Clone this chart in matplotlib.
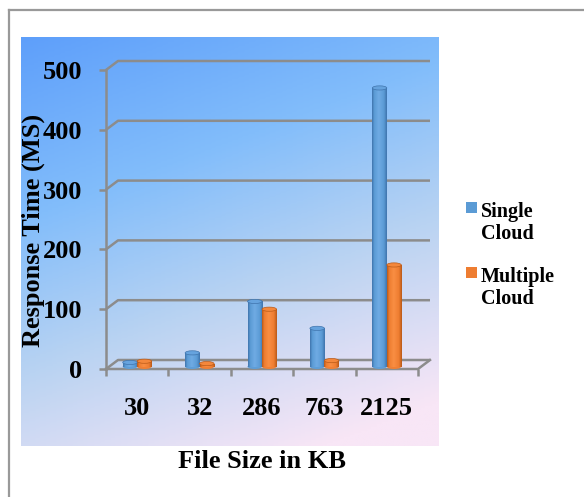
import matplotlib.pyplot as plt
import numpy as np
from matplotlib.patches import Rectangle, Ellipse
from matplotlib.colors import LinearSegmentedColormap
from matplotlib.lines import Line2D

sizes = ['30', '32', '286', '763', '2125']
single_cloud = [7, 23, 109, 64, 466]
multiple_cloud = [9, 5, 96, 10, 170]
series_names = ['Single\nCloud', 'Multiple\nCloud']
y_ticks = [0, 100, 200, 300, 400, 500]

W, H = 584, 497
DPI = 100
grey = '#8c8c8c'
font = 'Liberation Serif'

fig = plt.figure(figsize=(W / DPI, H / DPI), dpi=DPI)


def fx(px):
    return px / W


def fy(py):
    return 1 - py / H


# outer border
fig.add_artist(Line2D([fx(9), 1.0], [fy(10), fy(10)], color='#999999', lw=1.6))
fig.add_artist(Line2D([fx(9), fx(9)], [fy(10), 0.0], color='#999999', lw=1.6))

# gradient plot area
bg = fig.add_axes([fx(21), fy(446.5), fx(439) - fx(21), fy(37) - fy(446.5)])
bg.set_axis_off()
u = np.linspace(0, 1, 200)
v = np.linspace(0, 1, 200)
U, V = np.meshgrid(u, v)
T = np.clip(0.78 * V + 0.30 * U, 0, 1)
grad = LinearSegmentedColormap.from_list(
    'bg', [(0.0, '#5e9ffa'), (0.35, '#82bdfb'), (0.65, '#b9d3f2'), (1.0, '#f8e6f6')])
bg.imshow(T, cmap=grad, aspect='auto', extent=[0, 1, 0, 1], origin='upper')
bg.set_xlim(0, 1)
bg.set_ylim(0, 1)

# main axes: front plane
ax = fig.add_axes([fx(106), fy(369), fx(418) - fx(106), fy(70) - fy(369)])
ax.patch.set_alpha(0)
for s in ax.spines.values():
    s.set_visible(False)

n = len(sizes)
x = np.arange(n)
x0, x1 = -0.5, n - 0.5
dx = 12 * n / 312.0
dy = 9 * 500 / 299.0

# back wall grid with diagonal to the front
for t in y_ticks:
    ax.plot([x0, x0 + dx, x1 + dx], [t, t + dy, t + dy], color=grey, lw=1.8,
            clip_on=False, zorder=1, solid_capstyle='butt')
# floor front edge and right diagonal
ax.plot([x0, x1, x1 + dx], [0, 0, dy], color=grey, lw=1.8, clip_on=False, zorder=1)
# front vertical axis
ax.plot([x0, x0], [0, 500], color=grey, lw=1.8, clip_on=False, zorder=1)

# cylinder shading
def shade(c_dark, c_mid, c_light):
    return LinearSegmentedColormap.from_list(
        'cyl', [(0, c_dark), (0.15, c_mid), (0.45, c_light), (0.8, c_mid), (1, c_dark)])


blue = shade('#3f74ad', '#5b9bd5', '#6fabe4')
orange = shade('#b95a18', '#ee7d31', '#f98e43')
cap_cols = ['#66a3de', '#f4873b']
edge_cols = ['#3f74ad', '#b95a18']

bw = 0.232
base = 4
strip = np.linspace(0, 1, 64).reshape(1, -1)
for k, (vals, cm) in enumerate([(single_cloud, blue), (multiple_cloud, orange)]):
    offs = -bw / 2 if k == 0 else bw / 2
    for xi, val in zip(x, vals):
        left = xi + offs - bw / 2
        rect = Rectangle((left, base), bw, val, facecolor='none', edgecolor='none')
        ax.add_patch(rect)
        im = ax.imshow(strip, cmap=cm, aspect='auto',
                       extent=[left, left + bw, base, base + val], zorder=3)
        im.set_clip_path(rect)
        ax.add_patch(Ellipse((xi + offs, base), bw, 8, facecolor=cm(0.2),
                             edgecolor='none', zorder=2.9))
        ax.add_patch(Ellipse((xi + offs, base + val), bw, 7, facecolor=cap_cols[k],
                             edgecolor=edge_cols[k], lw=0.5, zorder=3.1))

ax.set_xlim(x0, x1)
ax.set_ylim(0, 500)

# ticks
ax.set_yticks(y_ticks)
ax.set_yticklabels([str(t) for t in y_ticks], fontfamily=font, fontweight='bold', fontsize=19)
ax.tick_params(axis='y', length=5, width=1.8, color=grey, pad=12)
ax.set_xticks(np.arange(n + 1) - 0.5)
ax.set_xticklabels([])
ax.set_xticks(x, minor=True)
ax.set_xticklabels(sizes, minor=True, fontfamily=font, fontweight='bold', fontsize=19)
ax.tick_params(axis='x', which='major', length=5, width=1.8, color=grey)
ax.tick_params(axis='x', which='minor', length=0, pad=20)

fig.text(fx(33), fy(230), 'Response Time (MS)', rotation=90, ha='center', va='center',
         fontfamily=font, fontweight='bold', fontsize=19)
fig.text(fx(261.5), fy(468), 'File Size in KB', ha='center', va='baseline',
         fontfamily=font, fontweight='bold', fontsize=19)

# legend
leg_cols = ['#5b9bd5', '#ee7d31']
leg_tops = [202, 267]
for name, col, top in zip(series_names, leg_cols, leg_tops):
    fig.add_artist(Rectangle((fx(466), fy(top + 11)), fx(11), 11 / H, facecolor=col,
                             edgecolor='none'))
    fig.text(fx(481), fy(top), name, ha='left', va='top', fontfamily=font,
             fontweight='bold', fontsize=14.5, linespacing=1.15)

fig.savefig('out.png', dpi=DPI)
